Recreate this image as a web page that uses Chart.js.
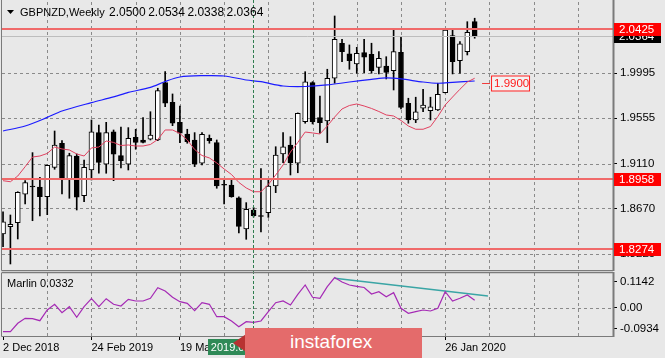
<!DOCTYPE html>
<html>
<head>
<meta charset="utf-8">
<script src="https://cdn.jsdelivr.net/npm/chart.js@4.4.1/dist/chart.umd.min.js"></script>
<style>
  body { margin: 0; background: #e8e8e8; }
  #wrap { position: relative; width: 665px; height: 358px; overflow: hidden; background: #e8e8e8; font-family: "Liberation Sans", Arial, sans-serif; }
  #mainChart { position: absolute; left: 0; top: 0; }
  #subChart { position: absolute; left: 0; top: 271px; }
  #logo { position: absolute; left: 245px; top: 328px; width: 177px; height: 30px; background: #e46b6b; }
  #logo span { position: absolute; left: 45px; top: 3px; color: #fff; font-size: 19px; font-family: "Liberation Sans", Arial, sans-serif; }
  #logoMark { position: absolute; left: 233px; top: 328px; width: 0; height: 0; border-top: 15px solid transparent; border-bottom: 15px solid transparent; border-right: 22px solid #b83232; }
</style>
</head>
<body>
<div id="wrap">
  <canvas id="mainChart" width="665" height="271"></canvas>
  <canvas id="subChart" width="665" height="87"></canvas>
  <div id="logoMark"></div>
  <div id="logo"><span>instaforex</span></div>
</div>
<script>
// weekly GBPNZD candles, bar 0 = 2 Dec 2018
const opens = [
  1.8420, 1.8491, 1.8531, 1.8809, 1.8887, 1.8880, 1.8785, 1.9073, 1.9309, 1.8959,
  1.9184, 1.8795, 1.9047, 1.9413, 1.9103, 1.9422, 1.9187, 1.9103, 1.9368, 1.9341,
  1.9348, 1.9341, 1.9903, 1.9709, 1.9513, 1.9400, 1.9341, 1.9113, 1.9358, 1.9315,
  1.8903, 1.8900, 1.8773, 1.8469, 1.8655, 1.8596, 1.8629, 1.8890, 1.9204, 1.9292,
  1.9113, 1.9520, 1.9903, 1.9560, 1.9527, 1.9946, 2.0289, 2.0184, 2.0086, 2.0197,
  2.0181, 2.0053, 2.0066, 2.0020, 2.0199, 1.9701, 1.9537, 1.9652, 1.9628, 1.9635,
  1.9805, 2.0363, 2.0118, 2.0206, 2.0500
];
const highs = [
  1.8638, 1.8606, 1.8834, 1.8942, 1.9217, 1.8975, 1.9096, 1.9429, 1.9334, 1.9211,
  1.9204, 1.9145, 1.9537, 1.9488, 1.9514, 1.9439, 1.9468, 1.9462, 1.9446, 1.9560,
  1.9618, 1.9848, 2.0012, 1.9792, 1.9674, 1.9446, 1.9413, 1.9413, 1.9390, 1.9341,
  1.8956, 1.8949, 1.8785, 1.8727, 1.8680, 1.9060, 1.8949, 1.9275, 1.9413, 1.9373,
  1.9606, 2.0010, 1.9912, 1.9772, 2.0034, 2.0556, 2.0328, 2.0272, 2.0249, 2.0328,
  2.0289, 2.0206, 2.0157, 2.0419, 2.0346, 1.9750, 1.9760, 1.9838, 1.9760, 1.9897,
  2.0429, 2.0419, 2.0304, 2.0500, 2.0534
];
const lows = [
  1.8295, 1.8126, 1.8371, 1.8714, 1.8550, 1.8596, 1.8609, 1.9054, 1.8812, 1.8770,
  1.8655, 1.8736, 1.8949, 1.9015, 1.9015, 1.8942, 1.9067, 1.9047, 1.9250, 1.9312,
  1.9341, 1.9334, 1.9667, 1.9481, 1.9315, 1.9309, 1.9080, 1.9096, 1.9309, 1.8868,
  1.8714, 1.8780, 1.8430, 1.8368, 1.8586, 1.8439, 1.8583, 1.8825, 1.9119, 1.8998,
  1.9020, 1.9505, 1.9498, 1.9407, 1.9315, 1.9897, 2.0108, 2.0034, 1.9995, 2.0001,
  1.9995, 1.9988, 1.9939, 1.9831, 1.9645, 1.9505, 1.9511, 1.9618, 1.9537, 1.9630,
  1.9802, 1.9988, 1.9995, 2.0174, 2.0338
];
const closes = [
  1.8540, 1.8515, 1.8829, 1.8923, 1.8880, 1.8785, 1.9093, 1.9292, 1.8966, 1.9187,
  1.8780, 1.9073, 1.9422, 1.9122, 1.9413, 1.9201, 1.9138, 1.9358, 1.9318, 1.9318,
  1.9390, 1.9824, 1.9701, 1.9505, 1.9407, 1.9324, 1.9103, 1.9397, 1.9334, 1.8890,
  1.8897, 1.8785, 1.8495, 1.8662, 1.8599, 1.8591, 1.8890, 1.9194, 1.9275, 1.9119,
  1.9603, 1.9912, 1.9520, 1.9511, 1.9946, 2.0328, 2.0206, 2.0118, 2.0191, 2.0152,
  2.0020, 2.0142, 2.0004, 2.0206, 1.9661, 1.9537, 1.9618, 1.9684, 1.9667, 1.9789,
  2.0419, 2.0108, 2.0282, 2.0396, 2.0364
];

// red moving average, one value per bar
const maFast = [
  1.8942, 1.8932, 1.8988, 1.9079, 1.9174, 1.9184, 1.9209, 1.9272, 1.9253, 1.9243,
  1.9204, 1.9184, 1.9263, 1.9272, 1.9331, 1.9317, 1.9287, 1.9292, 1.9282, 1.9282,
  1.9297, 1.9346, 1.9439, 1.9439, 1.9405, 1.9341, 1.9248, 1.9189, 1.9165, 1.9116,
  1.9057, 1.9003, 1.8925, 1.8871, 1.8834, 1.8834, 1.8905, 1.8998, 1.9096, 1.9223,
  1.9317, 1.9419, 1.9410, 1.9400, 1.9478, 1.9566, 1.9645, 1.9679, 1.9694, 1.9674,
  1.9650, 1.9620, 1.9586, 1.9576, 1.9532, 1.9478, 1.9446, 1.9446, 1.9473, 1.9571,
  1.9684, 1.9762, 1.9838, 1.9909, 1.9946
];

// blue moving average, read at these bars
const maSlowBars = [0, 3, 6, 8, 12, 15, 17, 20, 22, 24, 27, 30, 33, 35, 38, 41, 44, 47, 50, 52, 54, 57, 59, 61, 64];
const maSlowVals = [
  1.9429, 1.9478, 1.9562, 1.9625, 1.9707, 1.9763, 1.9808, 1.9856, 1.9914, 1.9958,
  1.9971, 1.9968, 1.9929, 1.9912, 1.9870, 1.9865, 1.9880, 1.9909, 1.9934, 1.9949,
  1.9939, 1.9909, 1.9897, 1.9905, 1.9919
];

// Marlin oscillator
const marlin = [
  -0.1054, -0.1054, -0.0685, -0.0465, -0.0483, -0.0571, -0.0101, 0.0149, -0.0220, 0.0044,
  -0.0421, 0.0044, 0.0395, 0.0044, 0.0395, 0.0149, 0.0075, 0.0369, 0.0294, 0.0294,
  0.0413, 0.0878, 0.0733, 0.0457, 0.0263, 0.0193, -0.0132, 0.0220, 0.0149, -0.0395,
  -0.0395, -0.0584, -0.0834, -0.0615, -0.0641, -0.0584, -0.0176, 0.0220, 0.0294, 0.0119,
  0.0588, 0.0997, 0.0457, 0.0413, 0.0922, 0.1326, 0.1129, 0.0997, 0.0940, 0.0887,
  0.0602, 0.0702, 0.0483, 0.0659, -0.0026, -0.0246, -0.0176, -0.0101, -0.0145, -0.0026,
  0.0702, 0.0294, 0.0413, 0.0558, 0.0332
];
const trendBars = [45, 65.8];
const trendVals = [0.129, 0.0514];

const priceTicks = [1.8225, 1.8670, 1.9110, 1.9555, 1.9995, 2.0435];
const marlinTicks = [-0.0934, 0, 0.1142];
const marlinTickLabels = ['-0.0934', '0.00', '0.1142'];
const marlinGrid = [0];
const levelLines = [2.0425, 1.8958, 1.8274];
const levelLabels = ['2.0425', '1.8958', '1.8274'];
const tagLevel = 1.9900;
const markerBar = 34;
const markerLabel = '2019.07.28 00:00';
const gridBars = [0, 6, 12, 18, 24, 30, 36, 42, 48, 54, 60, 66, 72, 78];
const dateBars = [0, 12, 24, 36, 48, 60];
const dateLabels = ['2 Dec 2018', '24 Feb 2019', '19 May 2019', '11 Aug 2019', '3 Nov 2019', '26 Jan 2020'];

const FONT = '"Liberation Sans", Arial, sans-serif';
const GRID = '#8a8a8a';
const FRAME = '#7a7a7a';
const X_MIN = -0.14, X_MAX = 82.77;

function noPad(s) { s.paddingTop = 0; s.paddingBottom = 0; s.paddingLeft = 0; s.paddingRight = 0; }

// dashed grid at the scale ticks, painted underneath what is already drawn
function paintGrid(chart, xVals, yVals) {
  const ctx = chart.ctx;
  const a = chart.chartArea;
  const xs = chart.scales.x, ys = chart.scales.y;
  ctx.save();
  ctx.globalCompositeOperation = 'destination-over';
  ctx.fillStyle = GRID;
  // dashes as small filled rects so they stay crisp
  for (const v of xVals) {
    const px = Math.round(xs.getPixelForValue(v));
    if (px > a.left + 2 && px < a.right) {
      for (let yy = Math.round(a.top); yy < a.bottom; yy += 6) ctx.fillRect(px, yy, 1, 3);
    }
  }
  for (const v of yVals) {
    const py = Math.round(ys.getPixelForValue(v));
    for (let xx = Math.round(a.left); xx < a.right; xx += 6) ctx.fillRect(xx, py, 3, 1);
  }
  ctx.restore();
}

function axisTag(ctx, area, y, text, bg, fg) {
  ctx.fillStyle = bg;
  ctx.fillRect(area.right + 1, Math.round(y) - 6, 47, 13);
  ctx.fillStyle = fg;
  ctx.font = '11.5px ' + FONT;
  ctx.textBaseline = 'middle';
  ctx.textAlign = 'left';
  ctx.fillText(text, area.right + 6, Math.round(y) + 0.5);
}

const mainOverlay = {
  id: 'mainOverlay',
  afterDatasetsDraw(chart) {
    paintGrid(chart, gridBars, priceTicks);
    const { ctx, chartArea: a, scales: { x, y } } = chart;
    ctx.save();
    // bid line
    const yb = Math.round(y.getPixelForValue(closes[closes.length - 1])) + 0.5;
    ctx.strokeStyle = '#bdbdbd';
    ctx.lineWidth = 1;
    ctx.beginPath(); ctx.moveTo(a.left, yb); ctx.lineTo(a.right, yb); ctx.stroke();
    // horizontal levels
    ctx.strokeStyle = '#f06a6a';
    ctx.lineWidth = 2;
    levelLines.forEach(v => {
      const py = Math.round(y.getPixelForValue(v));
      ctx.beginPath(); ctx.moveTo(a.left, py); ctx.lineTo(a.right, py); ctx.stroke();
    });
    // vertical marker
    const mx = Math.round(x.getPixelForValue(markerBar)) - 0.5;
    ctx.strokeStyle = '#2e7d4f';
    ctx.lineWidth = 1;
    ctx.setLineDash([3, 2]);
    ctx.beginPath(); ctx.moveTo(mx, a.top - 2); ctx.lineTo(mx, a.bottom + 1); ctx.stroke();
    ctx.setLineDash([]);
    // price tag 1.9900
    const ty = Math.round(y.getPixelForValue(tagLevel)) + 0.5;
    const tx = x.getPixelForValue(opens.length);
    ctx.strokeStyle = '#f03c3c';
    ctx.beginPath(); ctx.moveTo(tx, ty); ctx.lineTo(tx + 8, ty); ctx.stroke();
    ctx.fillStyle = '#f2f2f2';
    ctx.fillRect(tx + 9, ty - 8, 39, 16);
    ctx.strokeStyle = '#ff2020';
    ctx.strokeRect(tx + 9.5, ty - 7.5, 38, 15);
    ctx.fillStyle = '#ff1a1a';
    ctx.font = '11.5px ' + FONT;
    ctx.textBaseline = 'middle';
    ctx.fillText(tagLevel.toFixed(4), tx + 12, ty + 0.5);
    ctx.restore();
  },
  afterDraw(chart) {
    const { ctx, chartArea: a, scales: { y } } = chart;
    ctx.save();
    // frame
    ctx.strokeStyle = FRAME;
    ctx.lineWidth = 1;
    ctx.beginPath();
    ctx.moveTo(a.left - 0.5, 0); ctx.lineTo(a.left - 0.5, a.bottom + 0.5);
    ctx.lineTo(a.right, a.bottom + 0.5);
    ctx.stroke();
    ctx.lineWidth = 2;
    ctx.beginPath(); ctx.moveTo(a.right + 0.5, 0); ctx.lineTo(a.right + 0.5, a.bottom + 1); ctx.stroke();
    // title
    ctx.fillStyle = '#000';
    ctx.beginPath(); ctx.moveTo(7, 10); ctx.lineTo(14, 10); ctx.lineTo(10.5, 14); ctx.closePath(); ctx.fill();
    ctx.textBaseline = 'middle';
    ctx.textAlign = 'left';
    ctx.font = '11px ' + FONT;
    ctx.fillText('GBPNZD,Weekly', 20, 12.5);
    ctx.font = '12px ' + FONT;
    const vals = [opens, highs, lows, closes].map(s => s[s.length - 1].toFixed(4));
    vals.forEach((t, i) => ctx.fillText(t, 109 + i * 39.2, 12.5));
    // axis tags
    axisTag(ctx, a, y.getPixelForValue(closes[closes.length - 1]), closes[closes.length - 1].toFixed(4), '#000', '#fff');
    levelLines.forEach((v, i) => axisTag(ctx, a, y.getPixelForValue(v), levelLabels[i], '#ff0000', '#fff'));
    ctx.restore();
  }
};

const subOverlay = {
  id: 'subOverlay',
  afterDatasetsDraw(chart) {
    paintGrid(chart, gridBars, marlinGrid);
    const { ctx, chartArea: a, scales: { x } } = chart;
    ctx.save();
    const mx = Math.round(x.getPixelForValue(markerBar)) - 0.5;
    ctx.strokeStyle = '#2e7d4f';
    ctx.lineWidth = 1;
    ctx.setLineDash([3, 2]);
    ctx.beginPath(); ctx.moveTo(mx, 0); ctx.lineTo(mx, a.bottom); ctx.stroke();
    ctx.restore();
  },
  afterDraw(chart) {
    const { ctx, chartArea: a, scales: { x } } = chart;
    ctx.save();
    ctx.strokeStyle = FRAME;
    ctx.lineWidth = 1.5;
    ctx.beginPath();
    ctx.moveTo(a.left - 0.5, a.top - 0.5); ctx.lineTo(a.right, a.top - 0.5);
    ctx.stroke();
    ctx.lineWidth = 1;
    ctx.beginPath();
    ctx.moveTo(a.left - 0.5, a.top); ctx.lineTo(a.left - 0.5, a.bottom + 0.5); ctx.lineTo(a.right, a.bottom + 0.5);
    ctx.stroke();
    ctx.lineWidth = 2;
    ctx.beginPath(); ctx.moveTo(a.right + 0.5, a.top - 1); ctx.lineTo(a.right + 0.5, a.bottom + 1); ctx.stroke();
    // indicator label
    ctx.fillStyle = '#000';
    ctx.font = '11px ' + FONT;
    ctx.textBaseline = 'middle';
    ctx.fillText('Marlin ' + marlin[marlin.length - 1].toFixed(4), 7, 12.5);
    // marker date label
    const mx = x.getPixelForValue(markerBar);
    const w = ctx.measureText(markerLabel).width + 6;
    ctx.fillStyle = '#2f8a57';
    ctx.fillRect(Math.round(mx - w / 2), a.bottom + 3, Math.round(w), 16);
    ctx.fillStyle = '#fff';
    ctx.textAlign = 'center';
    ctx.fillText(markerLabel, mx, a.bottom + 11.5);
    ctx.restore();
  }
};

new Chart(document.getElementById('mainChart'), {
  type: 'bar',
  data: {
    datasets: [
      {
        type: 'line', label: 'MA fast',
        data: maFast.map((v, i) => ({ x: i, y: v })),
        borderColor: '#e0405f', borderWidth: 1, pointRadius: 0, order: 0
      },
      {
        type: 'line', label: 'MA slow',
        data: maSlowBars.map((b, k) => ({ x: b, y: maSlowVals[k] })),
        borderColor: '#1c1cff', borderWidth: 1.2, pointRadius: 0, tension: 0.3, order: 1
      },
      {
        label: 'body',
        data: opens.map((o, i) => ({ x: i, y: [o, closes[i]] })),
        backgroundColor: opens.map((o, i) => closes[i] >= o ? '#ffffff' : '#000000'),
        borderColor: '#000', borderWidth: 1, borderSkipped: false,
        barThickness: 5, minBarLength: 1, grouped: false, order: 2
      },
      {
        label: 'wick',
        data: lows.map((l, i) => ({ x: i, y: [l, highs[i]] })),
        backgroundColor: '#000', barThickness: 1, grouped: false, order: 3
      }
    ]
  },
  options: {
    responsive: false,
    animation: false,
    layout: { padding: { left: 2, top: 2, right: 0, bottom: 1 } },
    plugins: { legend: { display: false }, tooltip: { enabled: false } },
    scales: {
      x: {
        type: 'linear', min: X_MIN, max: X_MAX, offset: false,
        afterBuildTicks: s => { s.ticks = gridBars.map(v => ({ value: v })); },
        afterFit: s => { s.height = 0; noPad(s); },
        ticks: { display: false },
        grid: { drawOnChartArea: false, drawTicks: false, offset: false },
        border: { display: false }
      },
      y: {
        position: 'right', min: 1.8067, max: 2.0693,
        afterBuildTicks: s => { s.ticks = priceTicks.map(v => ({ value: v })); },
        afterFit: s => { s.width = 52; noPad(s); },
        ticks: {
          color: '#000', padding: 3,
          font: { family: FONT, size: 11.5 },
          callback: v => Number(v).toFixed(4)
        },
        grid: { drawOnChartArea: false, tickColor: '#000', tickLength: 4 },
        border: { display: false }
      }
    }
  },
  plugins: [mainOverlay]
});

new Chart(document.getElementById('subChart'), {
  type: 'line',
  data: {
    datasets: [
      {
        label: 'Marlin',
        data: marlin.map((v, i) => ({ x: i, y: v })),
        borderColor: '#a52ab5', borderWidth: 1.2, pointRadius: 0
      },
      {
        label: 'trend',
        data: trendBars.map((b, k) => ({ x: b, y: trendVals[k] })),
        borderColor: '#3aa5a5', borderWidth: 1.5, pointRadius: 0
      }
    ]
  },
  options: {
    responsive: false,
    animation: false,
    layout: { padding: { left: 2, top: 2, right: 0, bottom: 0 } },
    plugins: { legend: { display: false }, tooltip: { enabled: false } },
    scales: {
      x: {
        type: 'linear', min: X_MIN, max: X_MAX, offset: false,
        afterBuildTicks: s => { s.ticks = gridBars.map(v => ({ value: v })); },
        afterFit: s => { s.height = 22; noPad(s); },
        ticks: {
          autoSkip: false, maxRotation: 0, align: 'start', padding: 1,
          color: '#000', font: { family: FONT, size: 11 },
          callback: v => { const k = dateBars.indexOf(v); return k >= 0 ? dateLabels[k] : ''; }
        },
        grid: {
          drawOnChartArea: false, tickLength: 4, offset: false,
          tickColor: c => (c.tick && dateBars.includes(c.tick.value)) ? '#000' : 'rgba(0,0,0,0)'
        },
        border: { display: false }
      },
      y: {
        position: 'right', min: -0.1243, max: 0.1524,
        afterBuildTicks: s => { s.ticks = marlinTicks.map(v => ({ value: v })); },
        afterFit: s => { s.width = 52; noPad(s); },
        ticks: {
          color: '#000', padding: 3,
          font: { family: FONT, size: 11.5 },
          callback: v => { const k = marlinTicks.indexOf(v); return k >= 0 ? marlinTickLabels[k] : ''; }
        },
        grid: { drawOnChartArea: false, tickColor: '#000', tickLength: 4 },
        border: { display: false }
      }
    }
  },
  plugins: [subOverlay]
});
</script>
</body>
</html>
